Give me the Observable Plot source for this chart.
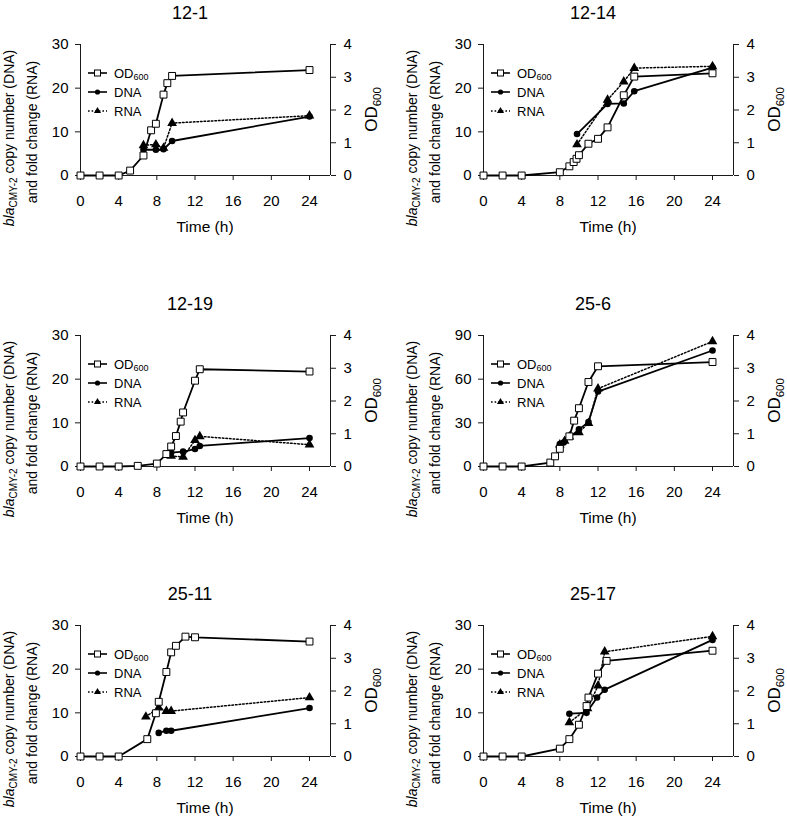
<!DOCTYPE html>
<html><head><meta charset="utf-8">
<script src="https://cdn.jsdelivr.net/npm/d3@7"></script>
<script src="https://cdn.jsdelivr.net/npm/@observablehq/plot@0.6"></script>
<style>
body{margin:0;background:#fff;font-family:"Liberation Sans",Arial,sans-serif;}
#wrap{position:relative;width:787px;height:819px;overflow:hidden;}
.panel{position:absolute;}
.panel svg{overflow:visible;}
</style></head><body><div id="wrap"></div>
<script>
// ---- shared ticks / labels ----
const xTicks = [0, 4, 8, 12, 16, 20, 24];
const odTicks = [0, 1, 2, 3, 4];
const yTicks30 = [0, 10, 20, 30];
const yTicks90 = [0, 30, 60, 90];
const titles = ["12-1", "12-14", "12-19", "25-6", "25-11", "25-17"];
const yMaxes = [30, 30, 30, 90, 30, 30];
const seriesNames = ["OD", "DNA", "RNA"];

// ---- 12-1 ----
const od_12_1_t = [0, 2, 4, 5.2, 6.6, 7.4, 7.9, 8.7, 9.1, 9.6, 24];
const od_12_1_v = [0, 0, 0, 0.15, 0.61, 1.38, 1.58, 2.47, 2.82, 3.04, 3.22];
const dna_12_1_t = [6.6, 7.9, 8.7, 9.6, 24];
const dna_12_1_v = [5.9, 5.9, 6.0, 7.9, 13.5];
const rna_12_1_t = [6.6, 7.9, 8.7, 9.6, 24];
const rna_12_1_v = [6.9, 7.1, 6.3, 12.0, 13.7];

// ---- 12-14 ----
const od_12_14_t = [0, 2, 4, 8.0, 9.0, 9.45, 9.75, 10.0, 11.0, 12.0, 13.0, 14.7, 15.8, 24];
const od_12_14_v = [0, 0, 0, 0.1, 0.28, 0.41, 0.51, 0.62, 0.97, 1.12, 1.47, 2.45, 3.02, 3.12];
const dna_12_14_t = [9.8, 13.0, 14.7, 15.8, 24];
const dna_12_14_v = [9.5, 16.4, 16.5, 19.3, 24.7];
const rna_12_14_t = [9.8, 13.0, 14.7, 15.8, 24];
const rna_12_14_v = [7.1, 17.3, 21.5, 24.6, 25.0];

// ---- 12-19 ----
const od_12_19_t = [0, 2, 4, 6.0, 8.0, 9.0, 9.5, 10.0, 10.5, 10.75, 12.0, 12.5, 24];
const od_12_19_v = [0, 0, 0, 0.02, 0.09, 0.38, 0.61, 0.93, 1.37, 1.65, 2.62, 2.97, 2.9];
const dna_12_19_t = [9.5, 10.75, 12.0, 12.5, 24];
const dna_12_19_v = [3.2, 3.4, 4.0, 4.7, 6.5];
const rna_12_19_t = [9.5, 10.75, 12.0, 12.5, 24];
const rna_12_19_v = [2.4, 2.2, 6.0, 6.9, 5.0];

// ---- 25-6 ----
const od_25_6_t = [0, 2, 4, 7.0, 7.5, 8.0, 9.0, 9.5, 10.0, 11.0, 12.0, 24];
const od_25_6_v = [0, 0, 0, 0.12, 0.31, 0.54, 0.92, 1.40, 1.78, 2.58, 3.06, 3.19];
const dna_25_6_t = [8.0, 8.4, 10.0, 11.0, 12.0, 24];
const dna_25_6_v = [15.5, 16.5, 25.5, 30.5, 51.5, 79.7];
const rna_25_6_t = [8.0, 8.5, 9.0, 10.0, 11.0, 12.0, 24];
const rna_25_6_v = [15.0, 17.5, 20.5, 23.4, 29.8, 53.5, 85.9];

// ---- 25-11 ----
const od_25_11_t = [0, 2, 4, 7.0, 7.9, 8.2, 9.0, 9.5, 10.0, 11.0, 12.0, 24];
const od_25_11_v = [0, 0, 0, 0.53, 1.32, 1.67, 2.58, 3.18, 3.38, 3.66, 3.64, 3.51];
const dna_25_11_t = [8.2, 9.0, 9.5, 24];
const dna_25_11_v = [5.4, 5.9, 5.9, 11.1];
const rna_25_11_t = [6.85, 8.2, 9.0, 9.5, 24];
const rna_25_11_v = [9.1, 11.2, 10.4, 10.4, 13.5];

// ---- 25-17 ----
const od_25_17_t = [0, 2, 4, 8.0, 9.0, 10.0, 10.8, 11.0, 12.0, 12.9, 24];
const od_25_17_v = [0, 0, 0, 0.24, 0.53, 0.97, 1.54, 1.80, 2.53, 2.92, 3.23];
const dna_25_17_t = [9.0, 10.8, 11.9, 12.7, 24];
const dna_25_17_v = [9.8, 10.0, 13.5, 15.3, 26.7];
const rna_25_17_t = [9.0, 10.9, 12.0, 12.7, 24];
const rna_25_17_v = [7.8, 11.0, 16.2, 24.0, 27.5];

const panels = [
  {odT: od_12_1_t, odV: od_12_1_v, dnaT: dna_12_1_t, dnaV: dna_12_1_v, rnaT: rna_12_1_t, rnaV: rna_12_1_v},
  {odT: od_12_14_t, odV: od_12_14_v, dnaT: dna_12_14_t, dnaV: dna_12_14_v, rnaT: rna_12_14_t, rnaV: rna_12_14_v},
  {odT: od_12_19_t, odV: od_12_19_v, dnaT: dna_12_19_t, dnaV: dna_12_19_v, rnaT: rna_12_19_t, rnaV: rna_12_19_v},
  {odT: od_25_6_t, odV: od_25_6_v, dnaT: dna_25_6_t, dnaV: dna_25_6_v, rnaT: rna_25_6_t, rnaV: rna_25_6_v},
  {odT: od_25_11_t, odV: od_25_11_v, dnaT: dna_25_11_t, dnaV: dna_25_11_v, rnaT: rna_25_11_t, rnaV: rna_25_11_v},
  {odT: od_25_17_t, odV: od_25_17_v, dnaT: dna_25_17_t, dnaV: dna_25_17_v, rnaT: rna_25_17_t, rnaV: rna_25_17_v}
];

const FONT = "Liberation Sans, Arial, sans-serif";
const INK = "#1a1a1a";
const XMAX = 26.2;
const W = 393, H = 235, MT = 44, MB = 60, PW = 250;
const colLeft = [0, 393];
const colML = [80, 90];
const rowTop = [0, 291, 581];

function buildPanel(i) {
  const p = panels[i];
  const ymax = yMaxes[i];
  const yTicks = ymax === 90 ? yTicks90 : yTicks30;
  const k = ymax / 4;
  const col = i % 2, row = Math.floor(i / 2);
  const ml = colML[col], mr = W - ml - PW;
  const od = p.odT.map((t, j) => ({t, v: p.odV[j] * k}));
  const dna = p.dnaT.map((t, j) => ({t, v: p.dnaV[j]}));
  const rna = p.rnaT.map((t, j) => ({t, v: p.rnaV[j]}));

  const svgEl = Plot.plot({
    width: W, height: H,
    marginTop: MT, marginBottom: MB, marginLeft: ml, marginRight: mr,
    style: {fontFamily: FONT, fontSize: "15px", color: "#000", background: "transparent", overflow: "visible"},
    x: {domain: [0, XMAX]},
    y: {domain: [0, ymax]},
    marks: [
      Plot.axisX({ticks: xTicks, tickSize: 5, tickPadding: 15, label: null, fontSize: 15, stroke: INK}),
      Plot.axisY({ticks: yTicks, tickSize: 5, tickPadding: 7, label: null, fontSize: 15, stroke: INK}),
      Plot.axisY({anchor: "right", ticks: odTicks.map(d => d * k), tickFormat: d => String(Math.round(d / k)),
                  tickSize: 5, tickPadding: 8, label: null, fontSize: 15, stroke: INK}),
      Plot.ruleY([0], {stroke: INK, strokeWidth: 1}),
      Plot.ruleX([0, XMAX], {stroke: INK, strokeWidth: 1}),
      Plot.line(rna, {x: "t", y: "v", stroke: "#000", strokeWidth: 1.5, strokeDasharray: "1.6,2"}),
      Plot.line(dna, {x: "t", y: "v", stroke: "#000", strokeWidth: 1.8}),
      Plot.line(od, {x: "t", y: "v", stroke: "#000", strokeWidth: 1.8}),
      Plot.dot(rna, {x: "t", y: "v", symbol: "triangle", r: 3.6, fill: "#000", stroke: "none"}),
      Plot.dot(dna, {x: "t", y: "v", symbol: "circle", r: 3.3, fill: "#000", stroke: "none"}),
      Plot.dot(od, {x: "t", y: "v", symbol: "square", r: 3.9, fill: "#fff", stroke: "#000", strokeWidth: 1})
    ]
  });

  const svg = d3.select(svgEl);
  const xR = W - mr;
  const g = svg.append("g").attr("font-family", FONT).attr("fill", "#000");

  // title
  g.append("text").attr("x", ml + 110).attr("y", 18.5).attr("text-anchor", "middle")
    .attr("font-size", 18).text(titles[i]);

  // x label
  g.append("text").attr("x", ml + PW / 2).attr("y", 232).attr("text-anchor", "middle")
    .attr("font-size", 15.5).text("Time (h)");

  // left y label, two lines
  const l1 = g.append("text").attr("transform", `translate(${ml - 66},138) rotate(-90)`)
    .attr("text-anchor", "middle").attr("font-size", 14);
  l1.append("tspan").attr("font-style", "italic").text("bla");
  l1.append("tspan").attr("font-size", 10).attr("dy", 3).text("CMY-2");
  l1.append("tspan").attr("dy", -3).text(" copy number (DNA)");
  g.append("text").attr("transform", `translate(${ml - 43},132) rotate(-90)`)
    .attr("text-anchor", "middle").attr("font-size", 14).text("and fold change (RNA)");

  // right y label
  const r1 = g.append("text").attr("transform", `translate(${xR + 47},${MT + 65.5}) rotate(-90)`)
    .attr("text-anchor", "middle").attr("font-size", 17);
  r1.append("tspan").text("OD");
  r1.append("tspan").attr("font-size", 11.5).attr("dy", 3.5).text("600");

  // legend
  const legY = [MT + 29, MT + 48, MT + 67];
  const lx0 = ml + 8, lx1 = ml + 27, lxm = ml + 17.5, ltx = ml + 34;
  const lg = svg.append("g").attr("font-family", FONT).attr("text-anchor", "start");
  seriesNames.forEach((s, j) => {
    const y = legY[j];
    lg.append("line").attr("x1", lx0).attr("x2", lx1).attr("y1", y).attr("y2", y)
      .attr("stroke", "#000").attr("stroke-width", j === 2 ? 1.3 : 1.6)
      .attr("stroke-dasharray", j === 2 ? "1.6,2" : null);
    if (j === 0) {
      lg.append("rect").attr("x", lxm - 3).attr("y", y - 3).attr("width", 6).attr("height", 6)
        .attr("fill", "#fff").attr("stroke", "#000").attr("stroke-width", 1);
    } else if (j === 1) {
      lg.append("circle").attr("cx", lxm).attr("cy", y).attr("r", 2.6).attr("fill", "#000");
    } else {
      lg.append("path").attr("transform", `translate(${lxm},${y})`)
        .attr("d", d3.symbol(d3.symbolTriangle, 22)()).attr("fill", "#000");
    }
    const t = lg.append("text").attr("x", ltx).attr("y", y + 4.7).attr("font-size", 13)
      .attr("fill", "#000").attr("text-anchor", "start");
    if (j === 0) {
      t.append("tspan").text("OD");
      t.append("tspan").attr("font-size", 9).attr("dy", 2.5).text("600");
    } else {
      t.text(s);
    }
  });

  const div = document.createElement("div");
  div.className = "panel";
  div.style.left = colLeft[col] + "px";
  div.style.top = rowTop[row] + "px";
  div.appendChild(svgEl);
  document.getElementById("wrap").appendChild(div);
}

for (let i = 0; i < panels.length; i++) buildPanel(i);
</script>
</body></html>
